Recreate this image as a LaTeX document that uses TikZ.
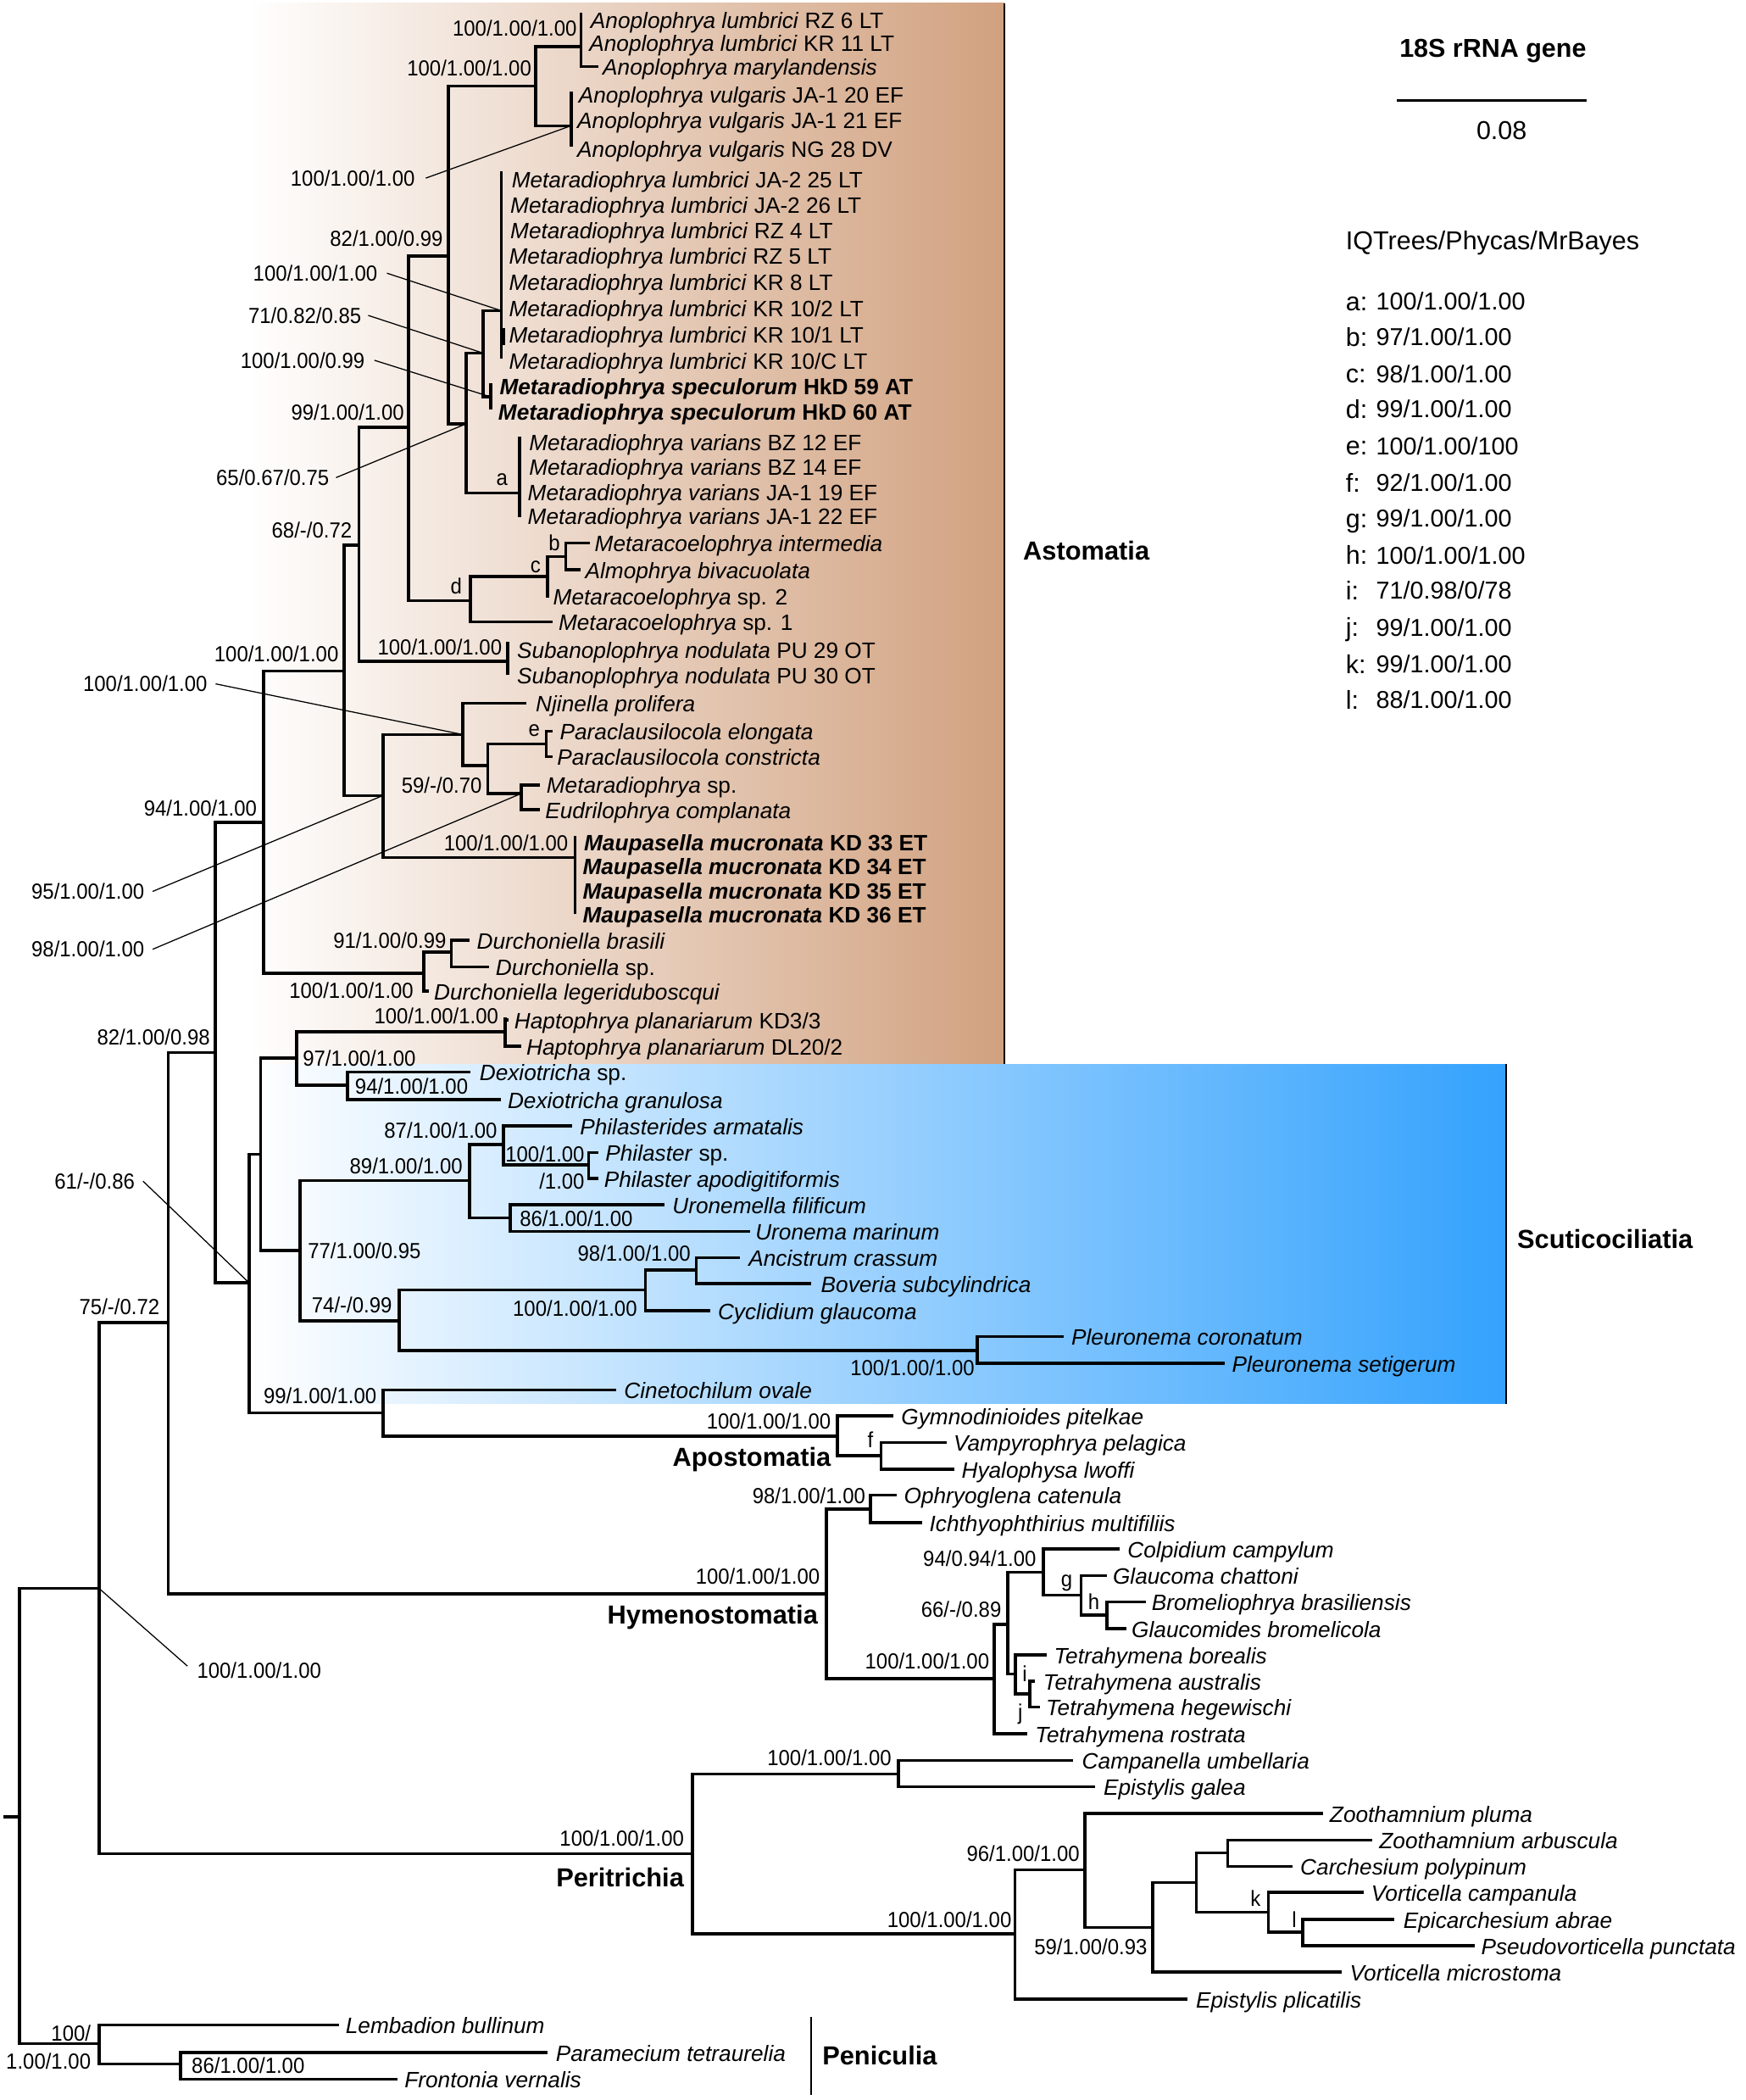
\documentclass[tikz,border=0pt]{standalone}
\usepackage{fontspec}
\setmainfont{Liberation Sans}
\newfontfamily\suppfont{Liberation Sans}[FakeStretch=0.93]
\definecolor{astoB}{RGB}{209,161,127}
\definecolor{scutB}{RGB}{52,162,253}
\tikzset{
  br/.style={line width=2.3pt},
  ldr/.style={line width=0.8pt},
  tx/.style={anchor=west, inner sep=0pt, font=\fontsize{16.6}{19}\selectfont, text height=13pt, text depth=0pt},
  supp/.style={inner sep=0pt, font=\suppfont\fontsize{16.3}{18}\selectfont, text height=11.6pt, text depth=0pt},
  clade/.style={inner sep=0pt, font=\fontsize{19.5}{22}\selectfont\bfseries, text height=14pt, text depth=0pt},
  lgd/.style={anchor=west, inner sep=0pt, font=\fontsize{19.3}{22}\selectfont, text height=13.8pt, text depth=0pt},
  lgv/.style={anchor=west, inner sep=0pt, font=\fontsize{18.2}{22}\selectfont, text height=13pt, text depth=0pt},
  boxedge/.style={line width=1.3pt}
}
\begin{document}
\begin{tikzpicture}[x=1pt,y=-1pt]
\useasboundingbox (0,0) rectangle (1304,1568);
% ---------- clade backgrounds
\shade[left color=white, right color=astoB] (185,2.5) rectangle (750,794.5);
\shade[left color=white, right color=scutB] (185,794.5) rectangle (1125,1048);
\draw[boxedge] (750,2.5) -- (750,794.5);
\draw[boxedge] (1125,794.5) -- (1125,1048);
% ---------- internal nodes
\coordinate (r0) at (2.4,1356.5);
\coordinate (R) at (14.6,1356.5);
\coordinate (N1) at (74,1186);
\coordinate (Pen) at (74,1526);
\coordinate (N2) at (125.6,987.4);
\coordinate (Peri) at (517,1384);
\coordinate (N3) at (160.7,785.9);
\coordinate (Hym) at (617.3,1190);
\coordinate (N4) at (197,613.9);
\coordinate (N5) at (186,957.8);
\coordinate (N6) at (257,501);
\coordinate (Dur) at (316.5,726.8);
\coordinate (N7) at (268,407.2);
\coordinate (N8) at (286,594);
\coordinate (N9) at (305,319);
\coordinate (Sub) at (379,493.7);
\coordinate (N10) at (335,191);
\coordinate (Nd) at (351.5,448.4);
\coordinate (Ano) at (400,64.3);
\coordinate (N11) at (348,316.5);
\coordinate (Alm) at (434,34.8);
\coordinate (Avu) at (426.5,93.9);
\coordinate (L) at (361,263.7);
\coordinate (Na) at (388,368.2);
\coordinate (Ml) at (374.5,232);
\coordinate (Sp) at (366.6,296.4);
\coordinate (Nc) at (409,430.4);
\coordinate (Nb) at (422.6,415.6);
\coordinate (P) at (345.7,548.5);
\coordinate (Mau) at (429.4,640.3);
\coordinate (Q) at (364.2,571.7);
\coordinate (Ne) at (408,555.5);
\coordinate (Nme) at (389.5,592.4);
\coordinate (D2) at (337,711);
\coordinate (N12) at (194.7,861.8);
\coordinate (CA) at (286.3,1054.9);
\coordinate (H) at (221.5,790);
\coordinate (S) at (224,933.5);
\coordinate (Hap) at (377.3,770.5);
\coordinate (Dex) at (259.5,810.1);
\coordinate (Ph) at (350.5,881.4);
\coordinate (T) at (298,986.3);
\coordinate (Pa) at (375.9,854.4);
\coordinate (U) at (381.2,909.3);
\coordinate (Phr) at (439.6,869.6);
\coordinate (AB) at (482,963.1);
\coordinate (Pl) at (730,1008.4);
\coordinate (AnBo) at (520,948.3);
\coordinate (Apo) at (625.6,1072.2);
\coordinate (Nf) at (658,1087);
\coordinate (O) at (650,1126.6);
\coordinate (T1) at (742.6,1253.2);
\coordinate (T2) at (752.7,1213);
\coordinate (CG) at (779.4,1174);
\coordinate (Te) at (758.4,1250);
\coordinate (Ng) at (807.3,1191);
\coordinate (Nh) at (826.7,1205.8);
\coordinate (Ni) at (769,1264.8);
\coordinate (Cam) at (670.8,1324.5);
\coordinate (V) at (758,1444);
\coordinate (W) at (810.4,1396.2);
\coordinate (X) at (861,1439.2);
\coordinate (Y) at (893.4,1405.5);
\coordinate (Z) at (917,1383.5);
\coordinate (K) at (947.3,1427.8);
\coordinate (Nl) at (973,1442.6);
\coordinate (Pm) at (135,1541);
% ---------- tips
\coordinate (t3) at (447,49.6);
\coordinate (t21) at (440.6,405.5);
\coordinate (t22) at (433.3,425.3);
\coordinate (t23) at (410,445.2);
\coordinate (t24) at (412.8,464.4);
\coordinate (t27) at (393.4,525);
\coordinate (t28) at (412.8,546);
\coordinate (t29) at (412.8,565);
\coordinate (t30) at (403,586);
\coordinate (t31) at (403,604.4);
\coordinate (t36) at (350.5,702);
\coordinate (t37) at (365,722);
\coordinate (t38) at (320,740);
\coordinate (t39) at (380,761.6);
\coordinate (t40) at (389.5,781);
\coordinate (t41) at (351.5,800.5);
\coordinate (t42) at (374,821);
\coordinate (t43) at (427,840.5);
\coordinate (t44) at (447,860.5);
\coordinate (t45) at (447,880);
\coordinate (t46) at (496.6,899.5);
\coordinate (t47) at (560,919.5);
\coordinate (t48) at (552.6,939);
\coordinate (t49) at (606,958.5);
\coordinate (t50) at (530.7,978.5);
\coordinate (t51) at (794.4,998);
\coordinate (t52) at (915,1018);
\coordinate (t53) at (460,1037.8);
\coordinate (t54) at (667,1057.2);
\coordinate (t55) at (707,1077);
\coordinate (t56) at (712.6,1097);
\coordinate (t57) at (669.6,1116.3);
\coordinate (t58) at (689,1137);
\coordinate (t59) at (836,1156.5);
\coordinate (t60) at (826.7,1176.5);
\coordinate (t61) at (855.6,1196);
\coordinate (t62) at (841,1216);
\coordinate (t63) at (781.6,1235.5);
\coordinate (t64) at (773,1255.4);
\coordinate (t65) at (777,1274.5);
\coordinate (t66) at (767.5,1294.5);
\coordinate (t67) at (801.7,1314.5);
\coordinate (t68) at (818,1334);
\coordinate (t69) at (988,1354);
\coordinate (t70) at (1024.7,1374);
\coordinate (t71) at (965.3,1393.5);
\coordinate (t72) at (1018.3,1413);
\coordinate (t73) at (1041,1433);
\coordinate (t74) at (1101.4,1452.8);
\coordinate (t75) at (1002.3,1472.3);
\coordinate (t76) at (887,1492.8);
\coordinate (t77) at (253,1512);
\coordinate (t78) at (409,1532.5);
\coordinate (t79) at (297,1552.5);
% ---------- branches
\draw[br] (r0) -- (R);
\foreach \p/\c in {R/N1,R/Pen,N1/N2,N1/Peri,N2/N3,N2/Hym,N3/N4,N3/N5,N4/N6,N4/Dur,
  N6/N7,N6/N8,N7/N9,N7/Sub,N9/N10,N9/Nd,N10/Ano,N10/N11,Ano/Alm,Ano/Avu,Alm/t3,
  N11/L,N11/Na,L/Ml,L/Sp,Nd/Nc,Nd/t24,Nc/Nb,Nc/t23,Nb/t21,Nb/t22,
  N8/P,N8/Mau,P/t27,P/Q,Q/Ne,Q/Nme,Ne/t28,Ne/t29,Nme/t30,Nme/t31,
  Dur/D2,Dur/t38,D2/t36,D2/t37,
  N5/N12,N5/CA,N12/H,N12/S,H/Hap,H/Dex,Hap/t39,Hap/t40,Dex/t41,Dex/t42,
  S/Ph,S/T,Ph/Pa,Ph/U,Pa/t43,Pa/Phr,Phr/t44,Phr/t45,U/t46,U/t47,
  T/AB,T/Pl,AB/AnBo,AB/t50,AnBo/t48,AnBo/t49,Pl/t51,Pl/t52,
  CA/t53,CA/Apo,Apo/t54,Apo/Nf,Nf/t55,Nf/t56,
  Hym/O,Hym/T1,O/t57,O/t58,T1/T2,T1/t66,T2/CG,T2/Te,CG/t59,CG/Ng,Ng/t60,Ng/Nh,
  Nh/t61,Nh/t62,Te/t63,Te/Ni,Ni/t64,Ni/t65,
  Peri/Cam,Peri/V,Cam/t67,Cam/t68,V/W,V/t76,W/t69,W/X,X/Y,X/t75,Y/Z,Y/K,
  Z/t70,Z/t71,K/t72,K/Nl,Nl/t73,Nl/t74,
  Pen/t77,Pen/Pm,Pm/t78,Pm/t79}
  \draw[br] (\p) |- (\c);
% zero-length tip groups
\draw[br] (Alm |- 0,9.5) -- (Alm |- 0,49.6);
\draw[br] (Avu |- 0,68.6) -- (Avu |- 0,109.7);
\draw[br] (Ml |- 0,127.6) -- (Ml |- 0,268);
\draw[line width=2.8pt] (376,244.7) -- (376,257.4);
\draw[br] (Sp |- 0,286) -- (Sp |- 0,306);
\draw[br] (Na |- 0,326) -- (Na |- 0,386);
\draw[br] (Sub |- 0,479) -- (Sub |- 0,504);
\draw[br] (Mau |- 0,624.4) -- (Mau |- 0,682.5);
\draw[br] (Hap |- 0,759.5) -- (Hap |- 0,770.5);
% ---------- taxa
\node[tx] (n1) at (441,14.8) {\textit{Anoplophrya lumbrici} RZ 6 LT};
\node[tx] (n2) at (440,31.6) {\textit{Anoplophrya lumbrici} KR 11 LT};
\node[tx] (n3) at (450,49.6) {\textit{Anoplophrya marylandensis}};
\node[tx] (n4) at (432,70.7) {\textit{Anoplophrya vulgaris} JA-1 20 EF};
\node[tx] (n5) at (431,89.7) {\textit{Anoplophrya vulgaris} JA-1 21 EF};
\node[tx] (n6) at (431,110.8) {\textit{Anoplophrya vulgaris} NG 28 DV};
\node[tx] (n7) at (382,134) {\textit{Metaradiophrya lumbrici} JA-2 25 LT};
\node[tx] (n8) at (381,153) {\textit{Metaradiophrya lumbrici} JA-2 26 LT};
\node[tx] (n9) at (381,172) {\textit{Metaradiophrya lumbrici} RZ 4 LT};
\node[tx] (n10) at (380,191) {\textit{Metaradiophrya lumbrici} RZ 5 LT};
\node[tx] (n11) at (380,210.5) {\textit{Metaradiophrya lumbrici} KR 8 LT};
\node[tx] (n12) at (380,230) {\textit{Metaradiophrya lumbrici} KR 10/2 LT};
\node[tx] (n13) at (380,249.5) {\textit{Metaradiophrya lumbrici} KR 10/1 LT};
\node[tx] (n14) at (380,269) {\textit{Metaradiophrya lumbrici} KR 10/C LT};
\node[tx] (n15) at (373,288) {\textbf{\textit{Metaradiophrya speculorum} HkD 59 AT}};
\node[tx] (n16) at (372,307) {\textbf{\textit{Metaradiophrya speculorum} HkD 60 AT}};
\node[tx] (n17) at (395,330) {\textit{Metaradiophrya varians} BZ 12 EF};
\node[tx] (n18) at (395,348) {\textit{Metaradiophrya varians} BZ 14 EF};
\node[tx] (n19) at (394,367) {\textit{Metaradiophrya varians} JA-1 19 EF};
\node[tx] (n20) at (394,385) {\textit{Metaradiophrya varians} JA-1 22 EF};
\node[tx] (n21) at (444,405.5) {\textit{Metaracoelophrya intermedia}};
\node[tx] (n22) at (437,425.3) {\textit{Almophrya bivacuolata}};
\node[tx] (n23) at (413,445.2) {\textit{Metaracoelophrya} sp. 2};
\node[tx] (n24) at (417,464.4) {\textit{Metaracoelophrya} sp. 1};
\node[tx] (n25) at (386,485) {\textit{Subanoplophrya nodulata} PU 29 OT};
\node[tx] (n26) at (386,504) {\textit{Subanoplophrya nodulata} PU 30 OT};
\node[tx] (n27) at (400,525) {\textit{Njinella prolifera}};
\node[tx] (n28) at (418,546) {\textit{Paraclausilocola elongata}};
\node[tx] (n29) at (416,565) {\textit{Paraclausilocola constricta}};
\node[tx] (n30) at (408,586) {\textit{Metaradiophrya} sp.};
\node[tx] (n31) at (407,604.4) {\textit{Eudrilophrya complanata}};
\node[tx] (n32) at (436,628.7) {\textbf{\textit{Maupasella mucronata} KD 33 ET}};
\node[tx] (n33) at (435,646.6) {\textbf{\textit{Maupasella mucronata} KD 34 ET}};
\node[tx] (n34) at (435,664.5) {\textbf{\textit{Maupasella mucronata} KD 35 ET}};
\node[tx] (n35) at (435,682.5) {\textbf{\textit{Maupasella mucronata} KD 36 ET}};
\node[tx] (n36) at (356,702) {\textit{Durchoniella brasili}};
\node[tx] (n37) at (370,722) {\textit{Durchoniella} sp.};
\node[tx] (n38) at (324,740) {\textit{Durchoniella legeriduboscqui}};
\node[tx] (n39) at (384,761.6) {\textit{Haptophrya planariarum} KD3/3};
\node[tx] (n40) at (393,781) {\textit{Haptophrya planariarum} DL20/2};
\node[tx] (n41) at (358,800.5) {\textit{Dexiotricha} sp.};
\node[tx] (n42) at (379,821) {\textit{Dexiotricha granulosa}};
\node[tx] (n43) at (433,840.5) {\textit{Philasterides armatalis}};
\node[tx] (n44) at (452,860.5) {\textit{Philaster} sp.};
\node[tx] (n45) at (451,880) {\textit{Philaster apodigitiformis}};
\node[tx] (n46) at (502,899.5) {\textit{Uronemella filificum}};
\node[tx] (n47) at (564,919.5) {\textit{Uronema marinum}};
\node[tx] (n48) at (559,939) {\textit{Ancistrum crassum}};
\node[tx] (n49) at (613,958.5) {\textit{Boveria subcylindrica}};
\node[tx] (n50) at (536,978.5) {\textit{Cyclidium glaucoma}};
\node[tx] (n51) at (800,998) {\textit{Pleuronema coronatum}};
\node[tx] (n52) at (920,1018) {\textit{Pleuronema setigerum}};
\node[tx] (n53) at (466,1037.8) {\textit{Cinetochilum ovale}};
\node[tx] (n54) at (673,1057.2) {\textit{Gymnodinioides pitelkae}};
\node[tx] (n55) at (712,1077) {\textit{Vampyrophrya pelagica}};
\node[tx] (n56) at (718,1097) {\textit{Hyalophysa lwoffi}};
\node[tx] (n57) at (675,1116.3) {\textit{Ophryoglena catenula}};
\node[tx] (n58) at (694,1137) {\textit{Ichthyophthirius multifiliis}};
\node[tx] (n59) at (842,1156.5) {\textit{Colpidium campylum}};
\node[tx] (n60) at (831,1176.5) {\textit{Glaucoma chattoni}};
\node[tx] (n61) at (860,1196) {\textit{Bromeliophrya brasiliensis}};
\node[tx] (n62) at (845,1216) {\textit{Glaucomides bromelicola}};
\node[tx] (n63) at (787,1235.5) {\textit{Tetrahymena borealis}};
\node[tx] (n64) at (779,1255.4) {\textit{Tetrahymena australis}};
\node[tx] (n65) at (781,1274.5) {\textit{Tetrahymena hegewischi}};
\node[tx] (n66) at (773,1294.5) {\textit{Tetrahymena rostrata}};
\node[tx] (n67) at (808,1314.5) {\textit{Campanella umbellaria}};
\node[tx] (n68) at (824,1334) {\textit{Epistylis galea}};
\node[tx] (n69) at (993,1354) {\textit{Zoothamnium pluma}};
\node[tx] (n70) at (1030,1374) {\textit{Zoothamnium arbuscula}};
\node[tx] (n71) at (971,1393.5) {\textit{Carchesium polypinum}};
\node[tx] (n72) at (1024,1413) {\textit{Vorticella campanula}};
\node[tx] (n73) at (1048,1433) {\textit{Epicarchesium abrae}};
\node[tx] (n74) at (1106,1452.8) {\textit{Pseudovorticella punctata}};
\node[tx] (n75) at (1008,1472.3) {\textit{Vorticella microstoma}};
\node[tx] (n76) at (893,1492.8) {\textit{Epistylis plicatilis}};
\node[tx] (n77) at (258,1512) {\textit{Lembadion bullinum}};
\node[tx] (n78) at (415,1532.5) {\textit{Paramecium tetraurelia}};
\node[tx] (n79) at (302,1552.5) {\textit{Frontonia vernalis}};
% ---------- support values
\node[supp,anchor=east] (s1) at (431,21.1) {100/1.00/1.00};
\node[supp,anchor=east] (s2) at (397,50.6) {100/1.00/1.00};
\node[supp,anchor=east] (s3) at (310,133) {100/1.00/1.00};
\node[supp,anchor=east] (s4) at (331,178) {82/1.00/0.99};
\node[supp,anchor=east] (s5) at (282,204) {100/1.00/1.00};
\node[supp,anchor=east] (s6) at (270,235.5) {71/0.82/0.85};
\node[supp,anchor=east] (s7) at (272.6,269) {100/1.00/0.99};
\node[supp,anchor=east] (s8) at (302,307.6) {99/1.00/1.00};
\node[supp,anchor=east] (s9) at (246,356.6) {65/0.67/0.75};
\node[supp,anchor=east] (s10) at (263,395.6) {68/-/0.72};
\node[supp,anchor=east] (s11) at (253,488.4) {100/1.00/1.00};
\node[supp,anchor=east] (s12) at (375,483) {100/1.00/1.00};
\node[supp,anchor=east] (s13) at (155,510.6) {100/1.00/1.00};
\node[supp,anchor=east] (s14) at (360,586.5) {59/-/0.70};
\node[supp,anchor=east] (s15) at (192,603.3) {94/1.00/1.00};
\node[supp,anchor=east] (s16) at (424.5,629.7) {100/1.00/1.00};
\node[supp,anchor=east] (s17) at (108,665.6) {95/1.00/1.00};
\node[supp,anchor=east] (s18) at (108,708.8) {98/1.00/1.00};
\node[supp,anchor=east] (s19) at (333.5,702.5) {91/1.00/0.99};
\node[supp,anchor=east] (s20) at (309,739.4) {100/1.00/1.00};
\node[supp,anchor=east] (s21) at (372.4,758.4) {100/1.00/1.00};
\node[supp,anchor=east] (s22) at (157,774.3) {82/1.00/0.98};
\node[supp,anchor=west] (s23) at (226,790) {97/1.00/1.00};
\node[supp,anchor=west] (s24) at (265,811.2) {94/1.00/1.00};
\node[supp,anchor=east] (s25) at (371.5,843.9) {87/1.00/1.00};
\node[supp,anchor=east] (s26) at (436.7,861.8) {100/1.00};
\node[supp,anchor=east] (s27) at (436.7,881.9) {/1.00};
\node[supp,anchor=east] (s28) at (345.7,870.9) {89/1.00/1.00};
\node[supp,anchor=east] (s29) at (100.8,881.9) {61/-/0.86};
\node[supp,anchor=west] (s30) at (388,909.7) {86/1.00/1.00};
\node[supp,anchor=west] (s31) at (229.8,934.2) {77/1.00/0.95};
\node[supp,anchor=east] (s32) at (516,935.7) {98/1.00/1.00};
\node[supp,anchor=east] (s33) at (119.3,975.7) {75/-/0.72};
\node[supp,anchor=west] (s34) at (232.7,974.7) {74/-/0.99};
\node[supp,anchor=east] (s35) at (476,976.8) {100/1.00/1.00};
\node[supp,anchor=east] (s36) at (728,1021) {100/1.00/1.00};
\node[supp,anchor=east] (s37) at (281.4,1042.2) {99/1.00/1.00};
\node[supp,anchor=east] (s38) at (620.7,1061.2) {100/1.00/1.00};
\node[supp,anchor=east] (s39) at (646.5,1117) {98/1.00/1.00};
\node[supp,anchor=east] (s40) at (774,1163.6) {94/0.94/1.00};
\node[supp,anchor=east] (s41) at (612.5,1177.3) {100/1.00/1.00};
\node[supp,anchor=east] (s42) at (748,1201.5) {66/-/0.89};
\node[supp,anchor=east] (s43) at (739,1240.5) {100/1.00/1.00};
\node[supp,anchor=west] (s44) at (147,1247) {100/1.00/1.00};
\node[supp,anchor=east] (s45) at (666,1312.2) {100/1.00/1.00};
\node[supp,anchor=east] (s46) at (511,1372.3) {100/1.00/1.00};
\node[supp,anchor=east] (s47) at (806.5,1384) {96/1.00/1.00};
\node[supp,anchor=east] (s48) at (755.6,1433.5) {100/1.00/1.00};
\node[supp,anchor=east] (s49) at (857,1453.6) {59/1.00/0.93};
\node[supp,anchor=east] (s50) at (68,1518) {100/};
\node[supp,anchor=east] (s51) at (68,1539) {1.00/1.00};
\node[supp,anchor=west] (s52) at (143,1542) {86/1.00/1.00};
% leader lines
\draw[ldr] ([xshift=8pt]s3.east) -- (Avu);
\draw[ldr] ([xshift=7pt]s5.east) -- (Ml);
\draw[ldr] ([xshift=5pt]s6.east) -- (L);
\draw[ldr] ([xshift=7pt]s7.east) -- (Sp);
\draw[ldr] ([xshift=5pt]s9.east) -- (N11);
\draw[ldr] ([xshift=6pt]s13.east) -- (P);
\draw[ldr] ([xshift=6pt]s17.east) -- (N8);
\draw[ldr] ([xshift=6pt]s18.east) -- (Nme);
\draw[ldr] ([xshift=6pt]s29.east) -- (N5);
\draw[ldr] ([shift={(-7,-3)}]s44.west) -- (N1);
% node letters
\node[supp] (la) at (375,356.6) {a};
\node[supp] (lb) at (414,405.5) {b};
\node[supp] (lc) at (400,422) {c};
\node[supp] (ld) at (340.8,437.8) {d};
\node[supp] (le) at (399,543.8) {e};
\node[supp] (lf) at (650,1075) {f};
\node[supp] (lg) at (796.6,1179) {g};
\node[supp] (lh) at (817,1196) {h};
\node[supp] (li) at (765.4,1250) {i};
\node[supp] (lj) at (762,1278.5) {j};
\node[supp] (lk) at (937.8,1417.3) {k};
\node[supp] (ll) at (966.6,1433.5) {l};
% ---------- clade names
\node[clade,anchor=west] (cAst) at (764,411) {Astomatia};
\node[clade,anchor=west] (cScu) at (1133,925) {Scuticociliatia};
\node[clade,anchor=east] (cApo) at (620.7,1087.6) {Apostomatia};
\node[clade,anchor=east] (cHym) at (611,1205.7) {Hymenostomatia};
\node[clade,anchor=east] (cPer) at (511,1402) {Peritrichia};
\node[clade,anchor=west] (cPen) at (614,1535) {Peniculia};
\coordinate (pb1) at (606,1506);
\coordinate (pb2) at (606,1564);
\draw[line width=1.3pt] (pb1) -- (pb2);
% ---------- legend
\node[lgd,anchor=center,font=\fontsize{19.3}{22}\selectfont\bfseries] (gTitle) at (1115,35.9) {18S rRNA gene};
\coordinate (sb1) at (1043.5,75);
\coordinate (sb2) at (1185.2,75);
\draw[line width=2pt] (sb1) -- (sb2);
\node[lgd,anchor=center] (gScale) at (1121.5,97) {0.08};
\node[lgd] (gHead) at (1005,179.3) {IQTrees/Phycas/MrBayes};
\foreach \k/\v/\yy in {a/100\slash 1.00\slash 1.00/225, b/97\slash 1.00\slash 1.00/251.7,
  c/98\slash 1.00\slash 1.00/279.2, d/99\slash 1.00\slash 1.00/305.5,
  e/100\slash 1.00\slash 100/333, f/92\slash 1.00\slash 1.00/360.4,
  g/99\slash 1.00\slash 1.00/387.1, h/100\slash 1.00\slash 1.00/414.6,
  i/71\slash 0.98\slash 0\slash 78/441, j/99\slash 1.00\slash 1.00/468.4,
  k/99\slash 1.00\slash 1.00/495.8, l/88\slash 1.00\slash 1.00/522.5}{
  \node[lgd] (gk\k) at (1005,\yy) {\k:};
  \node[lgv] (gv\k) at (1027.6,\yy) {\v};
}
\end{tikzpicture}
\end{document}
